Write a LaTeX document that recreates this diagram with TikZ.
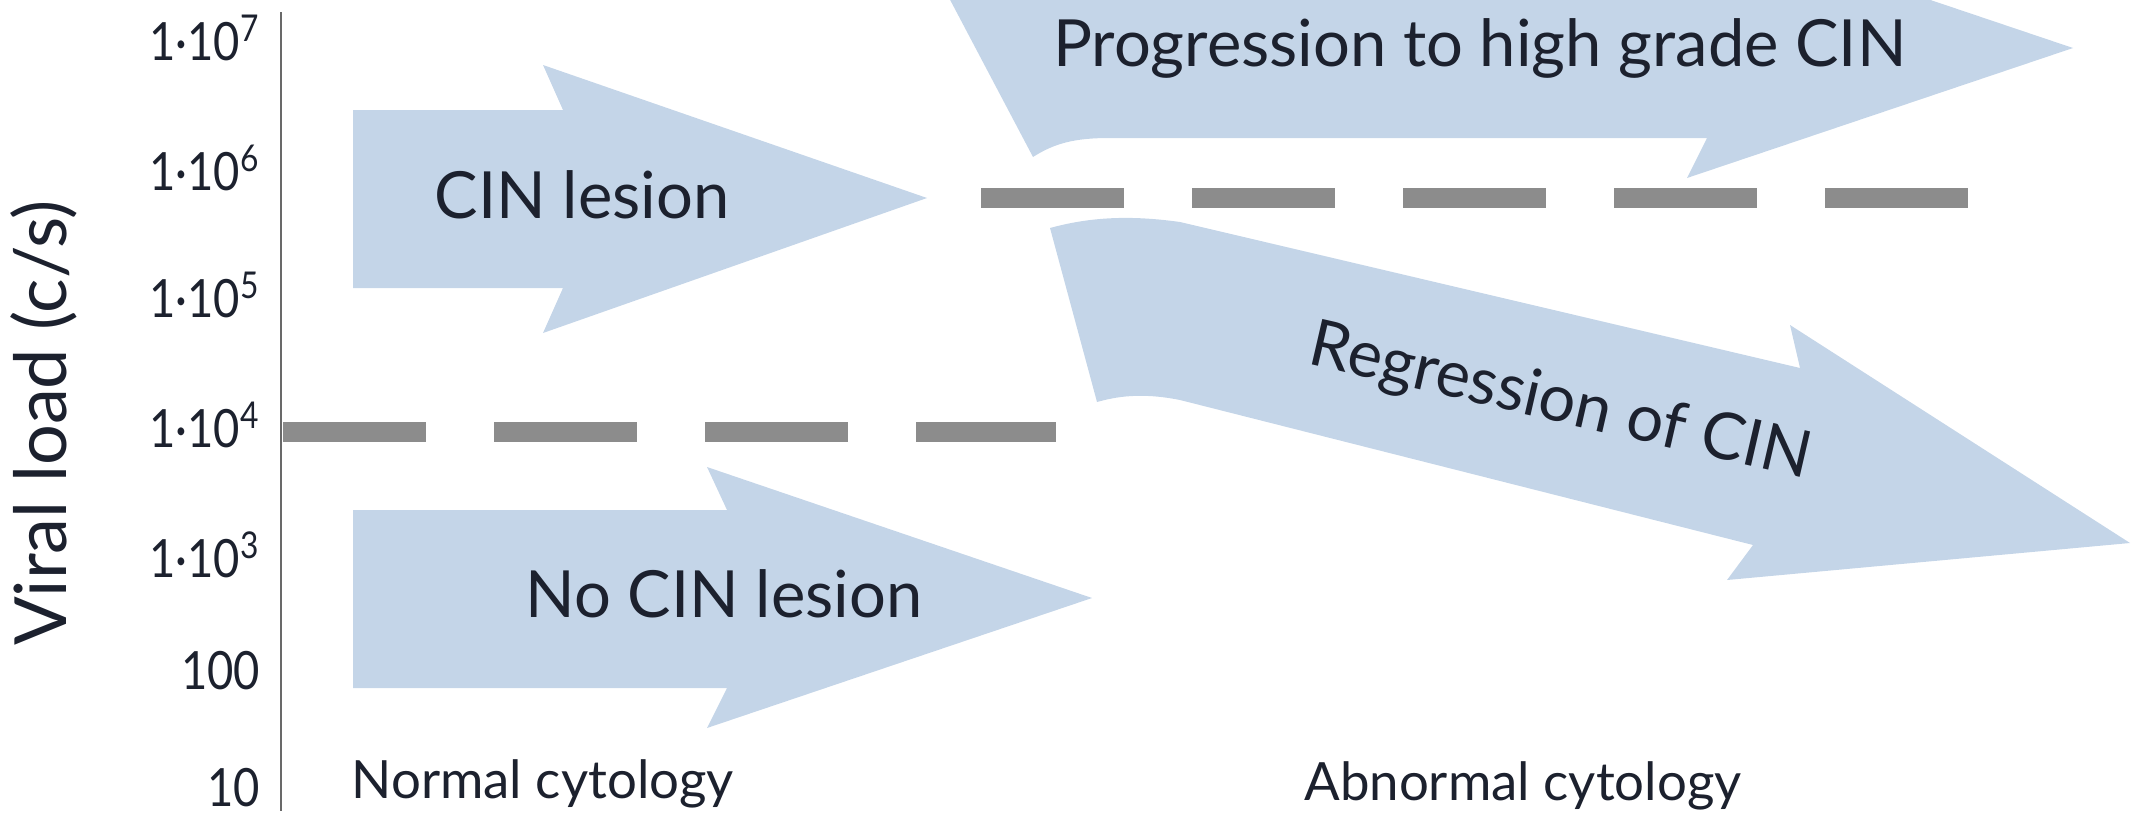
\documentclass[tikz,border=0pt]{standalone}
\usepackage{fontspec}
\setmainfont{Lato}
\newfontfamily\tickfont[FakeStretch=0.86]{Lato}
\definecolor{arrowblue}{RGB}{196,213,232}
\definecolor{dashgray}{RGB}{140,140,140}
\definecolor{axisgray}{RGB}{105,105,105}
\definecolor{txt}{RGB}{28,33,46}
\tikzset{
  bigarrow/.style={fill=arrowblue, draw=none},
  arrowlabel/.style={inner sep=0pt, text=txt, font=\fontsize{18.5}{22}\selectfont},
  ticklabel/.style={inner sep=0pt, text=txt, anchor=base east, font=\tickfont\fontsize{15}{17}\selectfont},
  catlabel/.style={inner sep=0pt, text=txt, font=\fontsize{15}{18}\selectfont},
  threshold/.style={draw=dashgray, line width=5.7pt, dash pattern=on 40.6pt off 19.4pt}
}
\begin{document}
\begin{tikzpicture}[x=0.01cm, y=-0.01cm]
\useasboundingbox (0,0) rectangle (2131,815);
\clip (0,0) rectangle (2131,815);

% arrows
\path[bigarrow] (353,110) -- (563,110) -- (543,65) -- (927,198) -- (543,333) -- (563,288) -- (353,288) -- cycle;
\path[bigarrow] (353,510) -- (727,510) -- (707,467) -- (1092,598) -- (707,728) -- (727,688) -- (353,688) -- cycle;
\path[bigarrow] (928,-42) -- (1033,157) .. controls (1055,143) and (1075,138) .. (1110,138)
  -- (1707,138) -- (1687,178) -- (2073,48) -- (1687,-82) -- (1707,-42) -- cycle;
\path[bigarrow] (1050,228) .. controls (1090,217) and (1130,215) .. (1180,222)
  -- (1800,368) -- (1790,325) -- (2130,543) -- (1727,580) -- (1753,545)
  -- (1180,400) .. controls (1140,392) and (1115,397) .. (1097,402) -- cycle;

% axis
\coordinate (axtop) at (281,12);
\coordinate (axbot) at (281,811);
\draw[axisgray, line width=0.7pt] (axtop) -- (axbot);

% threshold lines
\coordinate (t1a) at (283,432);
\coordinate (t1b) at (1056,432);
\coordinate (t2a) at (981,198);
\coordinate (t2b) at (1968,198);
\draw[threshold] (t1a) -- (t1b);
\draw[threshold] (t2a) -- (t2b);

% tick labels
\node[ticklabel] (l7) at (261,60) {1·10\textsuperscript{7}};
\node[ticklabel] (l6) at (261,190) {1·10\textsuperscript{6}};
\node[ticklabel] (l5) at (261,317) {1·10\textsuperscript{5}};
\node[ticklabel] (l4) at (261,447) {1·10\textsuperscript{4}};
\node[ticklabel] (l3) at (261,577) {1·10\textsuperscript{3}};
\node[ticklabel] (l2) at (261,689) {100};
\node[ticklabel] (l1) at (261,806) {10};

% axis title
\node[catlabel, font=\fontsize{20.5}{24}\selectfont, rotate=90, anchor=base] (ylab) at (66,423) {Viral load (c/s)};

% arrow labels
\node[arrowlabel, anchor=base] (cin) at (582,218) {CIN lesion};
\node[arrowlabel, anchor=base] (nocin) at (724,617) {No CIN lesion};
\node[arrowlabel, anchor=base] (prog) at (1480,67) {Progression to high grade CIN};
\node[arrowlabel, rotate=-13] (reg) at (1560,404) {Regression of CIN};

% category labels
\node[catlabel, anchor=base west] (normal) at (351,798) {Normal cytology};
\node[catlabel, anchor=base] (abnormal) at (1523,800) {Abnormal cytology};
\end{tikzpicture}
\end{document}
